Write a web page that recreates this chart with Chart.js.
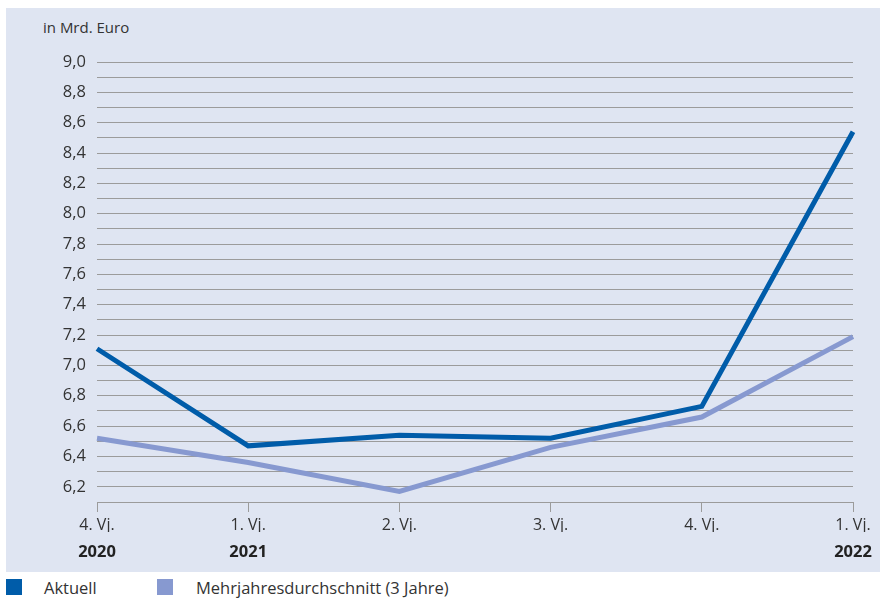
<!DOCTYPE html>
<html lang="de">
<head>
  <meta charset="UTF-8">
  <title>Aktuell vs. Mehrjahresdurchschnitt</title>
  <script src="https://cdn.jsdelivr.net/npm/chart.js"></script>
  <style>
    body { margin: 0; background: #fff; font-family: "Open Sans", sans-serif; color: #333; }
    #wrap { position: relative; width: 880px; height: 601px; }
    #panel { position: absolute; left: 6px; top: 8px; width: 874px; height: 564px; background: #dfe5f2; }
    #chartBox { position: absolute; left: 0; top: 0; width: 880px; height: 572px; }
    #einheit { position: absolute; left: 43px; top: 17px; font-size: 15px; }
    #legende { position: absolute; left: 6px; top: 576px; font-size: 16.5px; }
    .leg-item { position: absolute; top: 0; white-space: nowrap; }
    .leg-box { position: absolute; top: 3px; width: 16px; height: 16px; }
    .leg-text { position: absolute; top: 0; }
  </style>
</head>
<body>
  <div id="wrap">
    <div id="panel"></div>
    <div id="einheit">in Mrd. Euro</div>
    <div id="chartBox"><canvas id="grafik"></canvas></div>
    <div id="legende"></div>
  </div>

  <script>
    // Daten
    const quartale = ['4. Vj.', '1. Vj.', '2. Vj.', '3. Vj.', '4. Vj.', '1. Vj.'];
    const jahre = ['2020', '2021', '', '', '', '2022'];
    const aktuell = [7.11, 6.47, 6.54, 6.52, 6.73, 8.54];
    const mehrjahresdurchschnitt = [6.52, 6.36, 6.17, 6.46, 6.66, 7.19];
    const serienNamen = ['Aktuell', 'Mehrjahresdurchschnitt (3 Jahre)'];
    const serienFarben = ['#005ca9', '#8799d0'];

    const tickFont = { family: 'Open Sans', size: 16 };

    const grafik = new Chart(document.getElementById('grafik'), {
      type: 'line',
      data: {
        labels: quartale,
        datasets: [
          { label: serienNamen[0], data: aktuell, borderColor: serienFarben[0], backgroundColor: serienFarben[0] },
          { label: serienNamen[1], data: mehrjahresdurchschnitt, borderColor: serienFarben[1], backgroundColor: serienFarben[1] }
        ].map(ds => Object.assign(ds, { borderWidth: 5, pointRadius: 0, tension: 0, borderJoinStyle: 'miter', fill: false }))
      },
      options: {
        responsive: true,
        maintainAspectRatio: false,
        animation: false,
        layout: { padding: { top: 62, right: 27, bottom: 0, left: 0 } },
        plugins: { legend: { display: false }, tooltip: { enabled: false } },
        scales: {
          x: {
            position: 'bottom',
            weight: 0,
            offset: false,
            grid: { drawOnChartArea: false, drawTicks: true, tickLength: 10, color: '#9b9b9b' },
            border: { display: true, color: '#9b9b9b', width: 1 },
            ticks: { color: '#333', font: tickFont, padding: 4, autoSkip: false, maxRotation: 0 },
            afterFit: s => { s.height = 30; }
          },
          jahr: {
            type: 'category',
            labels: jahre,
            position: 'bottom',
            weight: 1,
            offset: false,
            // unsichtbare Striche nur als Abstand, damit das rechte Padding klein bleibt
            grid: { display: true, drawOnChartArea: false, drawTicks: true, tickLength: 9, color: 'rgba(0,0,0,0)' },
            border: { display: false },
            ticks: { color: '#222', font: { family: 'Open Sans', size: 16.5, weight: 'bold' }, padding: 1, autoSkip: false, maxRotation: 0 },
            afterFit: s => { s.height = 40; }
          },
          y: {
            min: 6.1,
            max: 9.0,
            grid: { color: '#9b9b9b', lineWidth: 1, drawTicks: false },
            border: { display: false },
            ticks: {
              stepSize: 0.1,
              autoSkip: false,
              padding: 11,
              color: '#333',
              font: { family: 'Open Sans', size: 16.5 },
              callback: v => (Math.round(v * 10) % 2 === 0 ? v.toFixed(1).replace('.', ',') : '')
            },
            afterFit: s => { s.width = 97; }
          }
        }
      }
    });

    // Legende
    const legende = document.getElementById('legende');
    const legPos = [0, 151];
    serienNamen.forEach((name, i) => {
      const item = document.createElement('div');
      item.className = 'leg-item';
      item.style.left = legPos[i] + 'px';
      item.innerHTML = '<span class="leg-box" style="left:0;background:' + serienFarben[i] + '"></span>' +
        '<span class="leg-text" style="left:' + (38 + (i ? 1 : 0)) + 'px">' + name + '</span>';
      legende.appendChild(item);
    });
  </script>
</body>
</html>
